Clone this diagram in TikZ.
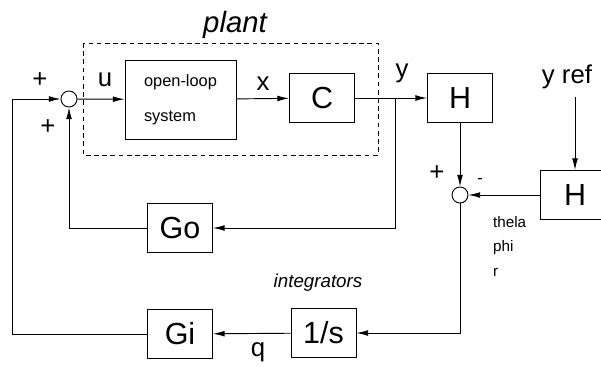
\documentclass[tikz,border=0pt]{standalone}
\usepackage{fontspec}
\setmainfont{Liberation Sans}
\usepackage{tikz}
\usetikzlibrary{arrows.meta, positioning}

\begin{document}
\begin{tikzpicture}[
          x=0.03cm, y=-0.03cm,
          >={Latex[length=10pt,width=5pt]},
          blk/.style={draw, line width=0.8pt, minimum width=1.95cm, minimum height=1.47cm, font=\fontsize{26}{28}\selectfont},
          sumpt/.style={circle, draw, line width=0.8pt, minimum size=0.48cm, inner sep=0pt},
          sig/.style={font=\fontsize{22}{24}\selectfont},
          sml/.style={font=\fontsize{13}{21}\selectfont, align=left},
          wire/.style={line width=0.8pt}
        ]
          \clip (0,0) rectangle (601,366);
          % forward path
          \node[sumpt] (s1) at (69,99) {};
          \node[draw, line width=0.8pt, minimum width=3.33cm, minimum height=2.37cm,
                font=\fontsize{14}{30}\selectfont, align=left] (ol) at (180.5,99.5) {open-loop\\system};
          \node[blk] (c) at (322,98) {C};
          \node[blk] (h1) at (460,98) {H};
          \node[sumpt] (s2) at (460,195) {};
          \node[blk, minimum width=2.1cm] (h2) at (575,195) {H};
          % feedback blocks
          \node[blk] (go) at (180,228) {Go};
          \node[blk] (gi) at (180,334) {Gi};
          \node[blk] (int) at (323.5,333) {1/s};
          \draw[dashed, line width=0.8pt, dash pattern=on 4pt off 3pt] (83,43) rectangle (378,155);
          % labels
          \node[font=\fontsize{25}{27}\selectfont\itshape] (lp) at (235,25) {plant};
          \node[sig] (lu) at (105,80) {u};
          \node[sig] (lx) at (263,84) {x};
          \node[sig] (ly) at (402,73) {y};
          \node[sig] (lyr) at (567,77) {y ref};
          \node[sig] (p1) at (40,80) {+};
          \node[sig] (p2) at (48,127) {+};
          \node[sig] (p3) at (437,173) {+};
          \node[font=\fontsize{14}{16}\selectfont] (m1) at (480,181) {-};
          \node[sml, anchor=north west] (lt) at (489,212) {thela\\phi\\r};
          \node[font=\fontsize{16}{18}\selectfont\itshape] (li) at (318,283) {integrators};
          \node[sig] (lq) at (258,352) {q};
          % connectors
          \coordinate (a1) at (12,334);
          \coordinate (a2) at (12,99);
          \coordinate (br) at (395,98);
          \coordinate (yr) at (575,97);
          \draw[wire, ->] (gi.west) -- (a1) -- (a2) -- (s1.west);
          \draw[wire, ->] (go.west) -| (s1.south);
          \draw[wire, ->] (s1) -- (ol);
          \draw[wire, ->] (ol) -- (c);
          \draw[wire, ->] (c) -- (h1);
          \draw[wire, ->] (br) |- (go.east);
          \draw[wire, ->] (h1) -- (s2);
          \draw[wire, ->] (yr) -- (h2.north);
          \draw[wire, ->] (h2) -- (s2);
          \draw[wire, ->] (s2.south) |- (int.east);
          \draw[wire, ->] (int) -- (gi);
        \end{tikzpicture}
\end{document}
